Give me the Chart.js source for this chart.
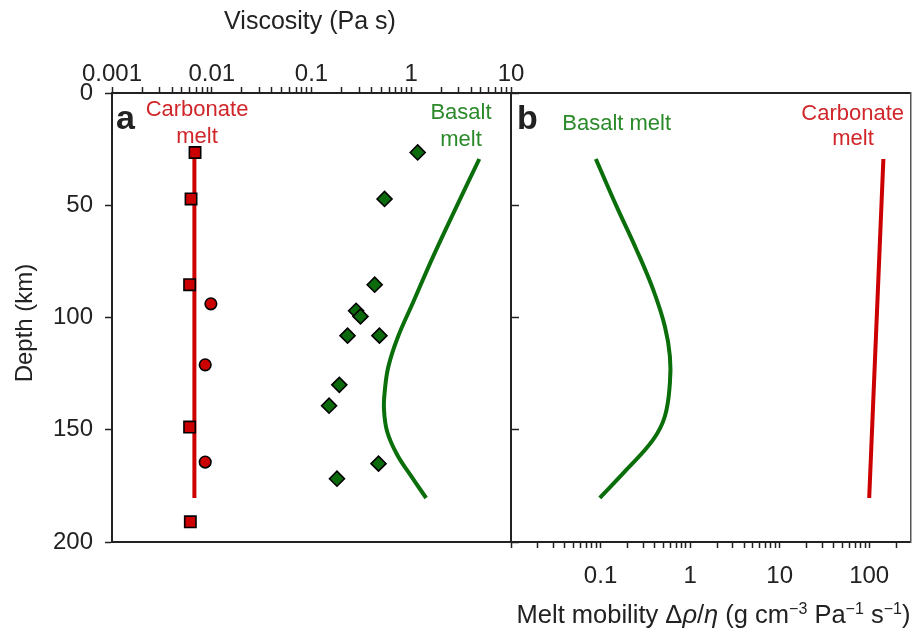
<!DOCTYPE html>
<html>
<head>
<meta charset="utf-8">
<script src="https://cdn.jsdelivr.net/npm/chart.js@4.4.1/dist/chart.umd.min.js"></script>
<style>
  html, body { margin: 0; padding: 0; background: #fff; }
  #wrap { position: relative; width: 914px; height: 634px; overflow: hidden; background: #fff; }
  canvas { position: absolute; top: 0; }
  #ca { left: 0; }
  #cb { left: 497px; }
</style>
</head>
<body>
<div id="wrap">
  <canvas id="cb" width="417" height="634"></canvas>
  <canvas id="ca" width="537" height="634"></canvas>
</div>
<script>
// ---------------- data ----------------
const depthTicks = [0, 50, 100, 150, 200];
const viscTickLabels = ['0.001', '0.01', '0.1', '1', '10'];
const mobilityTickLabels = ['0.1', '1', '10', '100'];

// Panel a: viscosity (Pa s) vs depth (km)
const carbSquareDepth = [26.5, 47.2, 85.4, 148.8, 191.0];
const carbSquareVisc  = [0.0068, 0.0062, 0.0060, 0.0060, 0.0061];
const carbCircleDepth = [93.9, 121.1, 164.4];
const carbCircleVisc  = [0.0098, 0.0086, 0.0086];
const carbLineDepth   = [28.0, 180.4];
const carbLineVisc    = [0.0067, 0.0067];

const basaltDiamondDepth = [26.5, 47.2, 85.4, 97.0, 99.5, 108.1, 108.1, 130.0, 139.3, 165.1, 171.8];
const basaltDiamondVisc  = [1.16, 0.54, 0.43, 0.28, 0.31, 0.23, 0.48, 0.19, 0.15, 0.47, 0.18];
const basaltCurveDepth   = [29.4, 50.5, 72.8, 93.0, 109.0, 121.8, 132.0, 141.0, 151.0, 161.0, 171.0, 180.4];
const basaltCurveVisc    = [4.81, 2.85, 1.66, 1.05, 0.73, 0.59, 0.545, 0.533, 0.575, 0.72, 1.01, 1.41];

// Panel b: melt mobility vs depth
const basaltMobDepth = [29.4, 50.5, 69.8, 87.6, 104.0, 117.3, 129.2, 144.0, 154.4, 167.8, 180.4];
const basaltMobility = [0.0886, 0.151, 0.252, 0.387, 0.523, 0.595, 0.595, 0.523, 0.387, 0.195, 0.098];
const carbMobDepth   = [29.4, 180.4];
const carbMobility   = [144, 100];

// ---------------- styling ----------------
const FONT = '"Liberation Sans", Arial, Helvetica, sans-serif';
const AXIS = '#222';
const RED = '#cc0000';
const GREEN = '#0a6e0a';
const RED_TXT = '#d0262a';
const GREEN_TXT = '#2a8a2a';

const pts = (xs, ys) => xs.map((x, i) => ({ x: x, y: ys[i] }));

function logTicks(min, max) {
  const out = [];
  const e0 = Math.floor(Math.log10(min) + 1e-9);
  const e1 = Math.ceil(Math.log10(max) - 1e-9);
  for (let e = e0; e <= e1; e++) {
    for (let m = 1; m <= 9; m++) {
      const v = parseFloat((m * Math.pow(10, e)).toPrecision(6));
      if (v >= min * 0.9999 && v <= max * 1.0001) out.push({ value: v });
    }
  }
  return out;
}
function labelFor(list) {
  return (value) => {
    const hit = list.find(l => Math.abs(Math.log10(Number(l)) - Math.log10(value)) < 1e-6);
    return hit === undefined ? '' : hit;
  };
}

// ---------------- text plugins ----------------
const textA = {
  id: 'textA',
  afterDraw(chart) {
    const ctx = chart.ctx;
    ctx.save();
    ctx.textBaseline = 'alphabetic';
    ctx.fillStyle = AXIS;
    ctx.font = '25px ' + FONT;
    ctx.textAlign = 'center';
    ctx.fillText('Viscosity (Pa s)', 310, 29);
    ctx.save();
    ctx.translate(31.5, 323);
    ctx.rotate(-Math.PI / 2);
    ctx.font = '24px ' + FONT;
    ctx.fillText('Depth (km)', 0, 0);
    ctx.restore();
    ctx.font = 'bold 34px ' + FONT;
    ctx.textAlign = 'left';
    ctx.fillText('a', 116, 128.5);
    ctx.font = '22px ' + FONT;
    ctx.textAlign = 'center';
    ctx.fillStyle = RED_TXT;
    ctx.fillText('Carbonate', 197, 116);
    ctx.fillText('melt', 197, 142.5);
    ctx.fillStyle = GREEN_TXT;
    ctx.fillText('Basalt', 461, 119.3);
    ctx.fillText('melt', 461, 145.5);
    ctx.restore();
  }
};

const OFFB = 497; // page x of canvas b
const textB = {
  id: 'textB',
  afterDraw(chart) {
    const ctx = chart.ctx;
    ctx.save();
    ctx.textBaseline = 'alphabetic';
    ctx.fillStyle = AXIS;
    ctx.font = 'bold 34px ' + FONT;
    ctx.textAlign = 'left';
    ctx.fillText('b', 517 - OFFB, 128.5);
    ctx.font = '22px ' + FONT;
    ctx.textAlign = 'center';
    ctx.fillStyle = GREEN_TXT;
    ctx.fillText('Basalt melt', 616.7 - OFFB, 130);
    ctx.fillStyle = RED_TXT;
    ctx.fillText('Carbonate', 852.7 - OFFB, 120);
    ctx.fillText('melt', 853 - OFFB, 145);

    // bottom axis title with italic and superscripts
    const base = 25.5, sup = 16;
    const segs = [
      { t: 'Melt mobility ' }, { t: '\u0394' }, { t: '\u03C1', i: true }, { t: '/' }, { t: '\u03B7', i: true },
      { t: ' (g cm' }, { t: '\u22123', s: true }, { t: ' Pa' }, { t: '\u22121', s: true },
      { t: ' s' }, { t: '\u22121', s: true }, { t: ')' }
    ];
    const fontOf = sg => (sg.i ? 'italic ' : '') + (sg.s ? sup : base) + 'px ' + FONT;
    let total = 0;
    segs.forEach(sg => { ctx.font = fontOf(sg); sg.w = ctx.measureText(sg.t).width; total += sg.w; });
    let x = (713.5 - OFFB) - total / 2;
    ctx.fillStyle = AXIS;
    ctx.textAlign = 'left';
    segs.forEach(sg => {
      ctx.font = fontOf(sg);
      ctx.fillText(sg.t, x, sg.s ? 623 - 9.5 : 623);
      x += sg.w;
    });
    ctx.restore();
  }
};

// ---------------- chart a ----------------
new Chart(document.getElementById('ca'), {
  type: 'scatter',
  data: {
    datasets: [
      { label: 'Carbonate squares', data: pts(carbSquareVisc, carbSquareDepth), pointStyle: 'rect', pointRadius: 8,
        backgroundColor: RED, borderColor: '#000', borderWidth: 1.6, order: 1 },
      { label: 'Carbonate circles', data: pts(carbCircleVisc, carbCircleDepth), pointStyle: 'circle', pointRadius: 5.8,
        backgroundColor: RED, borderColor: '#000', borderWidth: 1.6, order: 1 },
      { label: 'Basalt diamonds', data: pts(basaltDiamondVisc, basaltDiamondDepth), pointStyle: 'rectRot', pointRadius: 7.5,
        backgroundColor: '#0b6a0b', borderColor: '#000', borderWidth: 1.6, order: 1 },
      { label: 'Carbonate melt', data: pts(carbLineVisc, carbLineDepth), showLine: true, pointRadius: 0,
        borderColor: RED, borderWidth: 4, order: 5 },
      { label: 'Basalt melt', data: pts(basaltCurveVisc, basaltCurveDepth), showLine: true, pointRadius: 0, tension: 0.4,
        borderColor: GREEN, borderWidth: 4, order: 5 }
    ]
  },
  options: {
    responsive: false, animation: false, devicePixelRatio: 1,
    layout: { padding: 0 },
    plugins: { legend: { display: false }, tooltip: { enabled: false } },
    scales: {
      x: {
        type: 'logarithmic', position: 'top', min: 0.001, max: 10,
        afterBuildTicks: s => { s.ticks = logTicks(0.001, 10); },
        afterFit: s => { s.height = 93; },
        ticks: { callback: labelFor(viscTickLabels), autoSkip: false, maxRotation: 0, minRotation: 0,
                 font: { family: FONT, size: 24 }, color: AXIS, padding: -1.5 },
        grid: { drawOnChartArea: false, tickLength: 6, tickColor: AXIS, tickWidth: 1.5 },
        border: { display: true, color: AXIS, width: 2 }
      },
      y: {
        type: 'linear', position: 'left', reverse: true, min: 0, max: 200,
        afterBuildTicks: s => { s.ticks = depthTicks.map(v => ({ value: v })); },
        afterFit: s => { s.width = 112; },
        ticks: { font: { family: FONT, size: 24 }, color: AXIS, padding: 12 },
        grid: { drawOnChartArea: false, tickLength: 7, tickColor: AXIS, tickWidth: 1.5 },
        border: { display: true, color: AXIS, width: 2 }
      },
      y2: {
        type: 'linear', position: 'right', reverse: true, min: 0, max: 200,
        afterBuildTicks: s => { s.ticks = depthTicks.map(v => ({ value: v })); },
        afterFit: s => { s.width = 26; },
        ticks: { display: false },
        grid: { drawOnChartArea: false, tickLength: 8, tickColor: AXIS, tickWidth: 1.5 },
        border: { display: true, color: AXIS, width: 2 }
      },
      xb: {
        type: 'linear', position: 'bottom', min: 0, max: 1,
        afterFit: s => { s.height = 92; },
        ticks: { display: false },
        grid: { display: false },
        border: { display: true, color: AXIS, width: 2 }
      }
    }
  },
  plugins: [textA]
});

// ---------------- chart b ----------------
new Chart(document.getElementById('cb'), {
  type: 'scatter',
  data: {
    datasets: [
      { label: 'Basalt melt', data: pts(basaltMobility, basaltMobDepth), showLine: true, pointRadius: 0, tension: 0.4,
        borderColor: GREEN, borderWidth: 4 },
      { label: 'Carbonate melt', data: pts(carbMobility, carbMobDepth), showLine: true, pointRadius: 0,
        borderColor: RED, borderWidth: 4 }
    ]
  },
  options: {
    responsive: false, animation: false, devicePixelRatio: 1,
    layout: { padding: 0 },
    plugins: { legend: { display: false }, tooltip: { enabled: false } },
    scales: {
      x: {
        type: 'logarithmic', position: 'bottom', min: 0.01, max: 290,
        afterBuildTicks: s => { s.ticks = logTicks(0.01, 290); },
        afterFit: s => { s.height = 92; },
        ticks: { callback: labelFor(mobilityTickLabels), autoSkip: false, maxRotation: 0, minRotation: 0,
                 font: { family: FONT, size: 24 }, color: AXIS, padding: 14 },
        grid: { drawOnChartArea: false, tickLength: 6, tickColor: AXIS, tickWidth: 1.5 },
        border: { display: true, color: AXIS, width: 2 }
      },
      xt: {
        type: 'linear', position: 'top', min: 0, max: 1,
        afterFit: s => { s.height = 93; },
        ticks: { display: false }, grid: { display: false },
        border: { display: true, color: AXIS, width: 2 }
      },
      y: {
        type: 'linear', position: 'left', reverse: true, min: 0, max: 200,
        afterFit: s => { s.width = 8; },
        ticks: { display: false }, grid: { display: false },
        border: { display: true, color: AXIS, width: 2 }
      },
      yr: {
        type: 'linear', position: 'right', reverse: true, min: 0, max: 200,
        afterFit: s => { s.width = 3.4; },
        ticks: { display: false }, grid: { display: false },
        border: { display: true, color: '#555', width: 1.5 }
      }
    }
  },
  plugins: [textB]
});
</script>
</body>
</html>
